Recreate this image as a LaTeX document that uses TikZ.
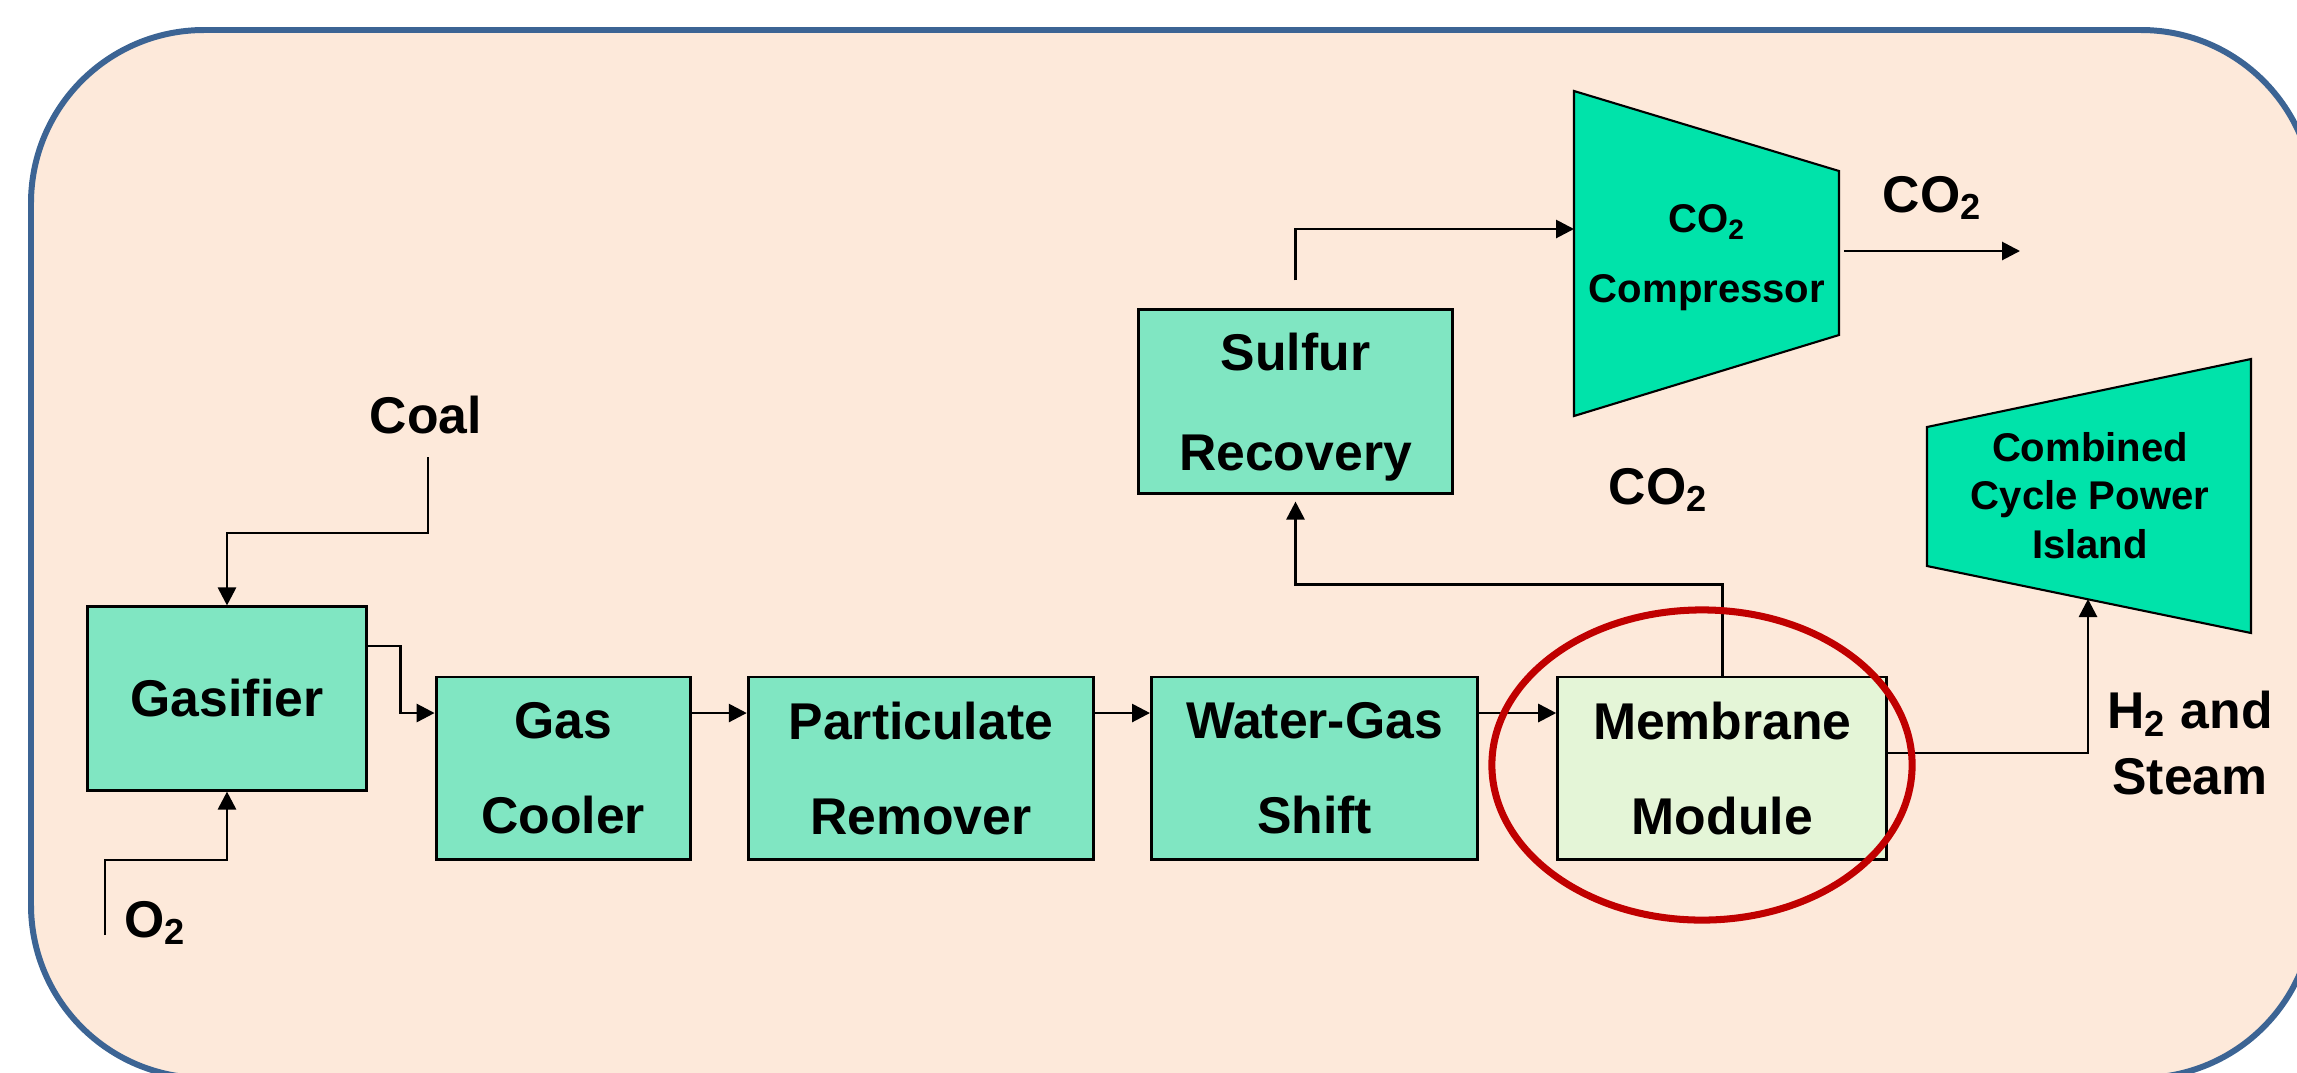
\documentclass[tikz,border=0pt]{standalone}
\usepackage{fontspec}
\setmainfont{Liberation Sans}
\usepackage{xcolor}
\usepackage{tikz}
\usetikzlibrary{arrows.meta, positioning}
\definecolor{mypeach}{RGB}{253,233,218}
\definecolor{myframe}{RGB}{60,100,148}
\definecolor{mygreen}{RGB}{128,230,194}
\definecolor{myteal}{RGB}{0,227,170}
\definecolor{mylight}{RGB}{228,245,215}
\definecolor{myred}{RGB}{192,0,0}
\newcommand{\unitfont}{\fontsize{14.7}{27}\selectfont\bfseries}
\newcommand{\streamfont}{\fontsize{14.7}{18.5}\selectfont\bfseries}
\newcommand{\machfont}{\fontsize{11.4}{19.9}\selectfont\bfseries}
\tikzstyle{unit} = [rectangle, minimum height=1.82cm, text centered, align=center, inner sep=0pt, draw=black, line width=0.85pt, fill=mygreen, font=\unitfont]
\tikzstyle{machine} = [draw=black, line width=0.6pt, fill=myteal]
\tikzstyle{stream} = [inner sep=0pt, font=\streamfont]
\tikzstyle{arrow} = [line width=0.8pt, -{Triangle[length=1.8mm, width=1.8mm]}]

\begin{document}
\begin{tikzpicture}[x=0.01cm, y=-0.01cm]
    \useasboundingbox (0,0) rectangle (2297,1072);
    \draw [line width=1.7pt, draw=myframe, fill=mypeach, rounded corners=1.73cm] (31,30) rectangle (2314,1078);

    \node (gas) [unit, minimum width=2.78cm, minimum height=1.83cm] at (227,698.5) {Gasifier};
    \node (gc) [unit, minimum width=2.54cm, right=0.67cm of gas, yshift=-0.695cm] {Gas\\Cooler};
    \node (pr) [unit, minimum width=3.45cm, right=0.55cm of gc] {Particulate\\Remover};
    \node (wgs) [unit, minimum width=3.26cm, right=0.55cm of pr] {Water-Gas\\Shift};
    \node (mem) [unit, minimum width=3.29cm, fill=mylight, right=0.77cm of wgs] {Membrane\\Module};
    \node (sr) [unit, minimum width=3.13cm, minimum height=1.83cm, text depth=0pt, font=\fontsize{14.7}{28.4}\selectfont\bfseries] at (1295.5,401.5) {Sulfur\\Recovery};

    \draw [machine] (1574,91) -- (1839,171) -- (1839,335) -- (1574,416) -- cycle;
    \node (comp) [align=center, inner sep=0pt, font=\machfont] at (1707,258) {CO\textsubscript{2}\\Compressor};
    \draw [machine] (1927,427) -- (2251,359) -- (2251,633) -- (1927,566) -- cycle;
    \node (ccpi) [align=center, inner sep=0pt, font=\fontsize{11.4}{13.75}\selectfont\bfseries] at (2090,495.5) {Combined\\Cycle Power\\Island};

    \node (coal) [stream, anchor=base] at (426,433) {Coal};
    \node (o2) [stream, anchor=base west] at (124,937) {O\textsubscript{2}};
    \node (co2top) [stream, anchor=base west] at (1882,212) {CO\textsubscript{2}};
    \node (co2mid) [stream, anchor=base west] at (1608,504) {CO\textsubscript{2}};
    \node (h2) [stream, align=center] at (2190,743) {H\textsubscript{2} and\\Steam};

    \coordinate (coalin) at (428,457);
    \coordinate (o2in) at (105,935);
    \coordinate (compin) at (1574,229);
    \coordinate (compout) at (1844,251);
    \coordinate (co2out) at (2020,251);
    \coordinate (ccpiin) at (2088,599);

    \draw [arrow] (coalin) -- ++(0,76) -| (gas.north);
    \draw [arrow] (o2in) -- ++(0,-75) -| (gas.south);
    \draw [arrow] ([yshift=0.525cm]gas.east) -- ++(33,0) |- ([yshift=0.55cm]gc.west);
    \draw [arrow] ([yshift=0.55cm]gc.east) -- ([yshift=0.55cm]pr.west);
    \draw [arrow] ([yshift=0.55cm]pr.east) -- ([yshift=0.55cm]wgs.west);
    \draw [arrow] ([yshift=0.55cm]wgs.east) -- ([yshift=0.55cm]mem.west);
    \draw [arrow] (mem.north) -- ++(0,-91) -| ([yshift=-0.07cm]sr.south);
    \draw [arrow] ([yshift=0.28cm]sr.north) |- (compin);
    \draw [arrow] (compout) -- (co2out);
    \draw [arrow] ([yshift=0.15cm]mem.east) -| (ccpiin);

    \draw [myred, line width=2pt] (1702,765) ellipse [x radius=2.1cm, y radius=1.55cm];
\end{tikzpicture}
\end{document}
